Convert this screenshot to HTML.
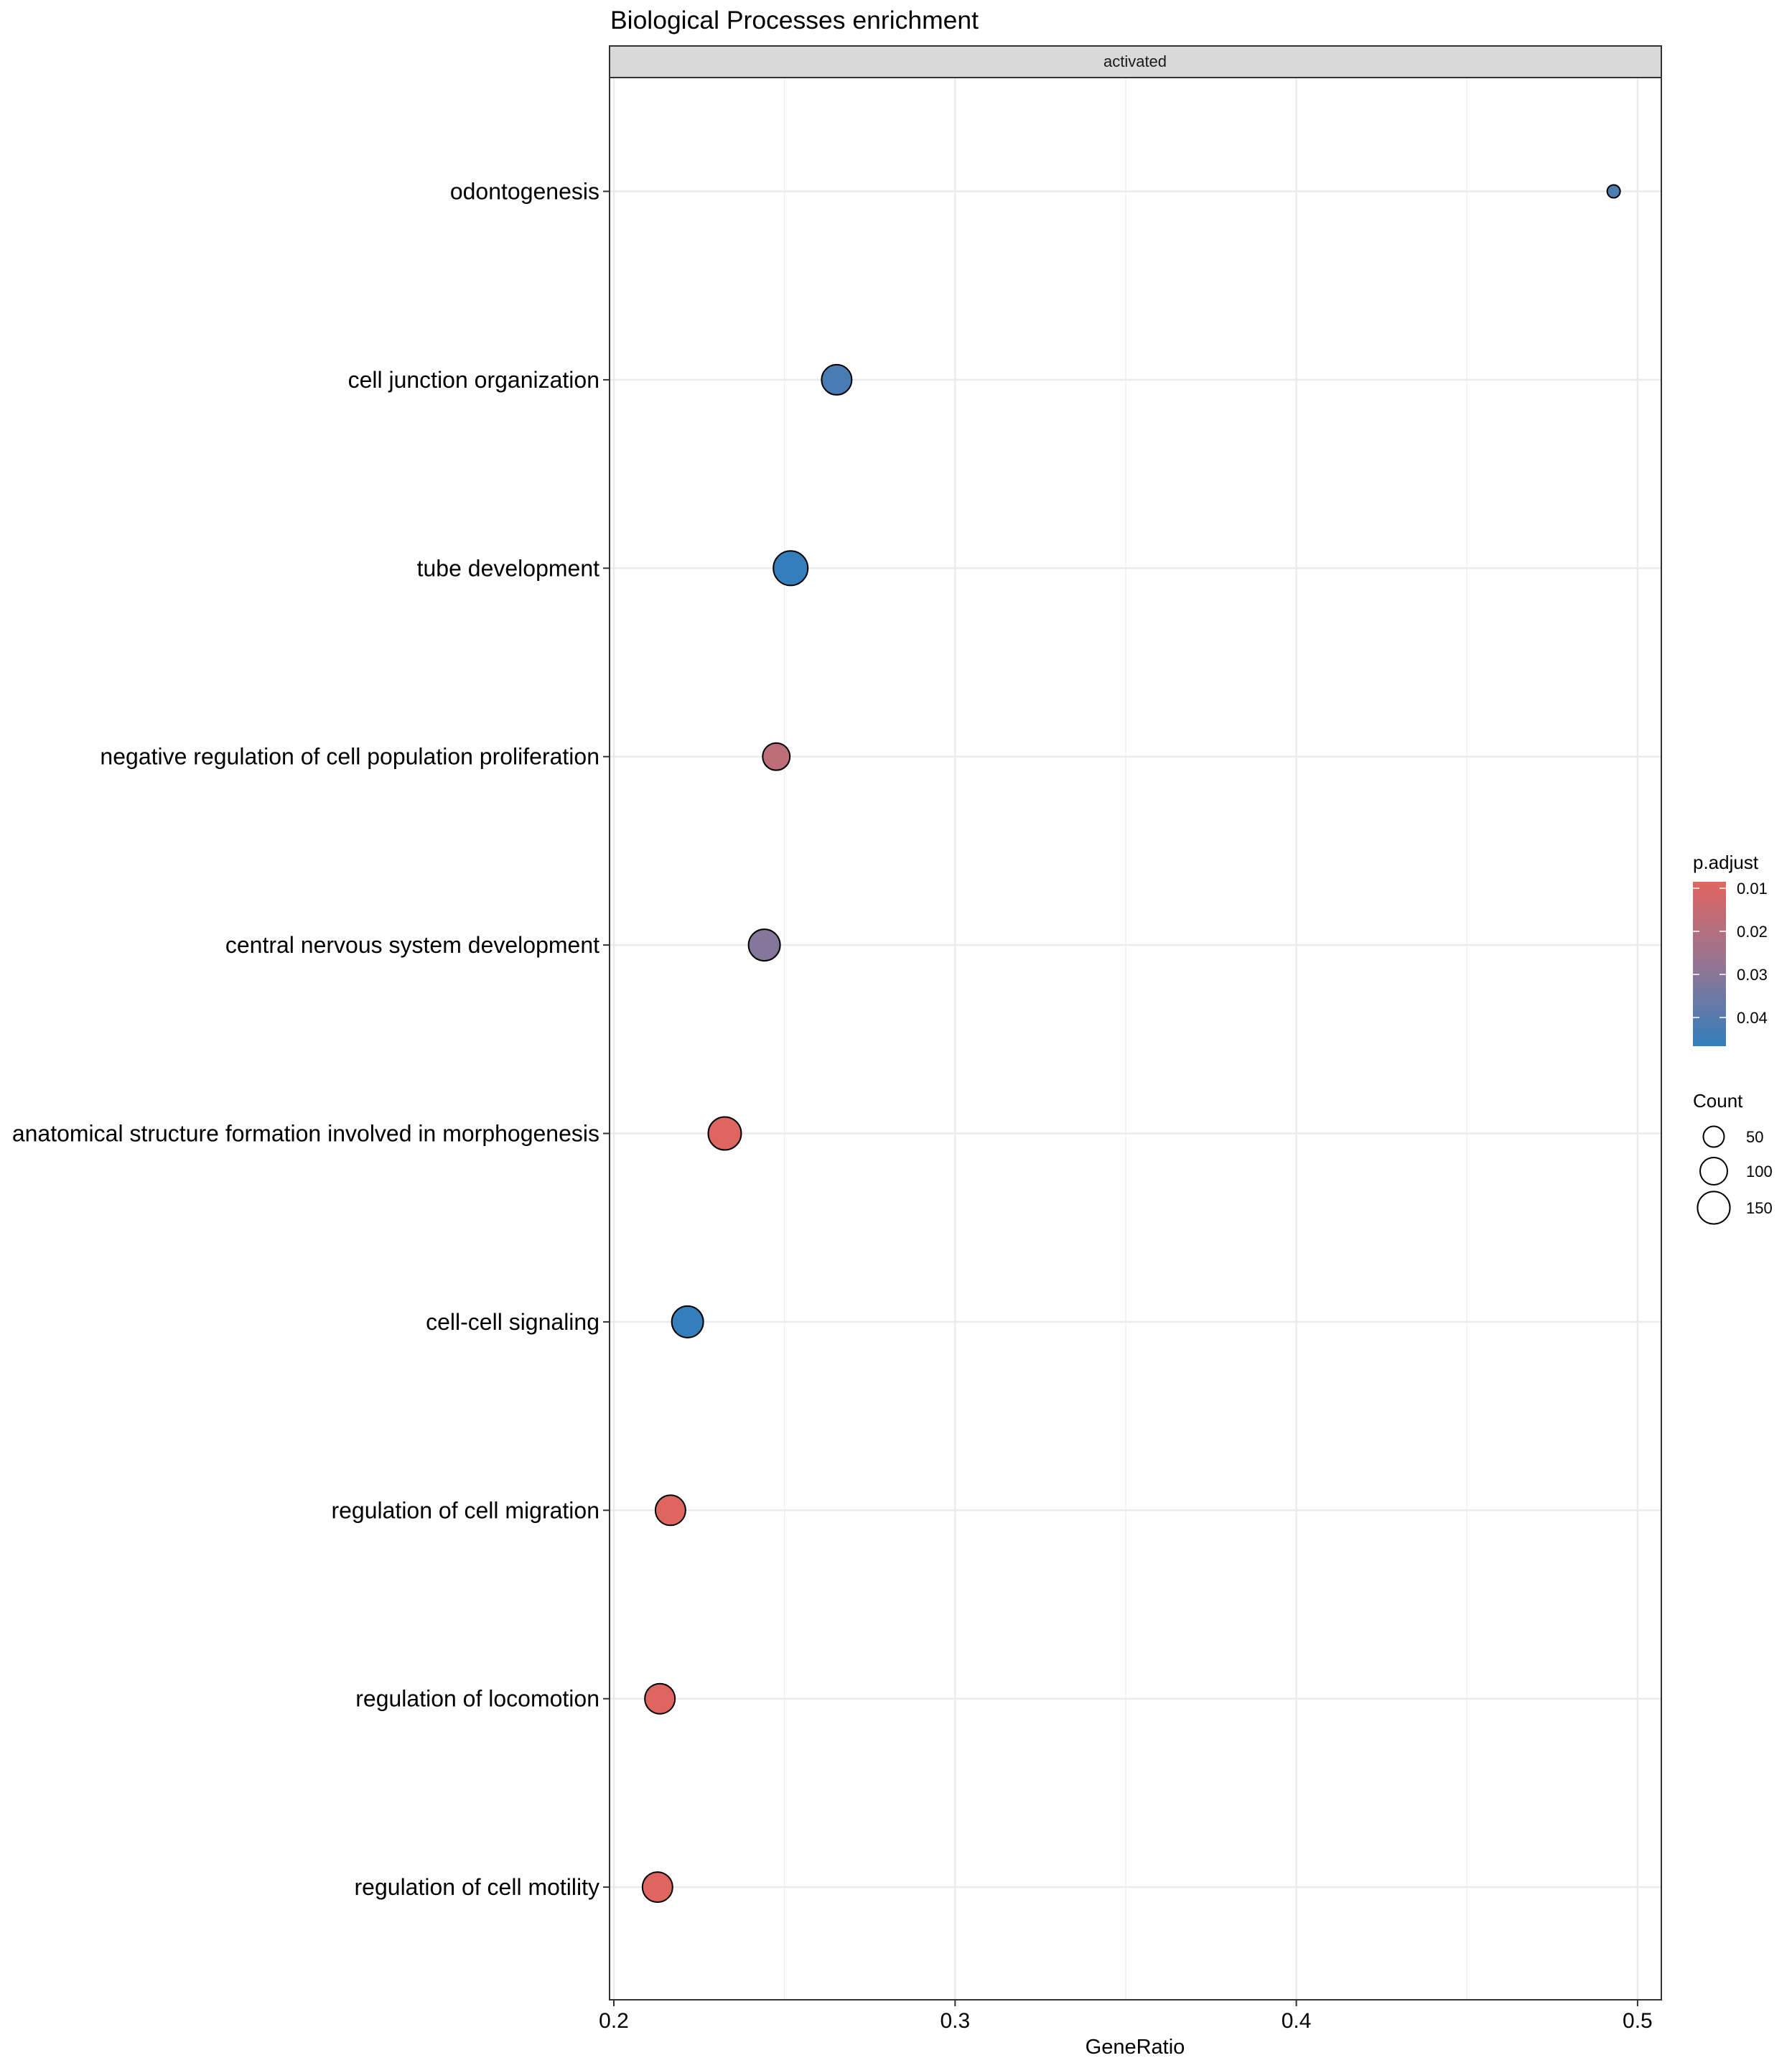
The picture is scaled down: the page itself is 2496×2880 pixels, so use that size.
<!DOCTYPE html>
<html><head><meta charset="utf-8"><style>
html,body{margin:0;padding:0;background:#fff}
svg{display:block;font-family:"Liberation Sans",Arial,sans-serif}
</style></head><body>
<svg id="chart" width="2496" height="2880" viewBox="0 0 2496 2880" xmlns="http://www.w3.org/2000/svg">
<defs><linearGradient id="cbar" x1="0" y1="0" x2="0" y2="1">
<stop offset="0" stop-color="#E0655F"/><stop offset="0.5" stop-color="#967592"/><stop offset="1" stop-color="#337EBB"/></linearGradient></defs>
<text x="850" y="40" font-size="35.5" fill="#000">Biological Processes enrichment</text>
<rect x="849" y="64" width="1465" height="44" fill="#d9d9d9" stroke="#333" stroke-width="2"/>
<text x="1581" y="93" font-size="22" text-anchor="middle" fill="#1a1a1a">activated</text>
<g id="grid"></g><g id="points"></g>
<rect x="849" y="108" width="1465" height="2677" fill="none" stroke="#333" stroke-width="2"/>
<g id="axes"></g>
<text x="1581" y="2860" font-size="29" text-anchor="middle">GeneRatio</text>
<text x="2358" y="1210" font-size="26">p.adjust</text>
<rect x="2358" y="1228" width="46" height="229" fill="url(#cbar)"/>
<g id="legend"></g>
<text x="2358" y="1542" font-size="26">Count</text>
</svg>
<script>
const categories=["odontogenesis","cell junction organization","tube development","negative regulation of cell population proliferation","central nervous system development","anatomical structure formation involved in morphogenesis","cell-cell signaling","regulation of cell migration","regulation of locomotion","regulation of cell motility"];
const geneRatio=[0.493,0.2653,0.2518,0.2476,0.2441,0.2325,0.2216,0.2166,0.2135,0.2128];
const pAdjust=[0.042,0.043,0.047,0.018,0.031,0.009,0.047,0.009,0.009,0.009];
const counts=[7,127,172,100,141,156,141,127,127,127];
const xTicks=[0.2,0.3,0.4,0.5];
const xMinor=[0.25,0.35,0.45];
const pTicks=[0.01,0.02,0.03,0.04];
const sizeBreaks=[50,100,150];

const NS="http://www.w3.org/2000/svg";
const X=v=>855+(v-0.2)*4753;
const Y=i=>266.5+i*262.4;
const R=c=>Math.sqrt(60+3*c);
const PY=p=>1237+(p-0.01)*6000;
function lerp(a,b,t){return Math.round(a+(b-a)*t);}
function col(p){let t=(p-0.00857)/(0.047-0.00857);t=Math.max(0,Math.min(1,t));
 const s=[[224,101,95],[150,117,146],[51,126,187]];
 let a,b,u;if(t<0.5){a=s[0];b=s[1];u=t*2}else{a=s[1];b=s[2];u=(t-0.5)*2}
 return `rgb(${lerp(a[0],b[0],u)},${lerp(a[1],b[1],u)},${lerp(a[2],b[2],u)})`;}
function mk(tag,attrs,parent,text){const e=document.createElementNS(NS,tag);for(const k in attrs)e.setAttribute(k,attrs[k]);if(text!==undefined)e.textContent=text;parent.appendChild(e);return e;}
const grid=document.getElementById('grid'),pts=document.getElementById('points'),axes=document.getElementById('axes'),leg=document.getElementById('legend');
xMinor.forEach(v=>{const l=mk('line',{x1:X(v),x2:X(v),y1:108,y2:2785,stroke:'#f0f0f0','stroke-width':1.5},grid);

});
xTicks.forEach(v=>{const l=mk('line',{x1:X(v),x2:X(v),y1:108,y2:2785,stroke:'#ebebeb','stroke-width':2.5},grid);


const t=mk('line',{x1:X(v),x2:X(v),y1:2785,y2:2794,stroke:'#333','stroke-width':2},axes);


const tx=mk('text',{x:X(v),y:2824,'font-size':30,'text-anchor':'middle',fill:'#000'},axes,String(v));

});
categories.forEach((c,i)=>{const l=mk('line',{x1:849,x2:2314,y1:Y(i),y2:Y(i),stroke:'#ebebeb','stroke-width':2.5},grid);


const t=mk('line',{x1:840,x2:849,y1:Y(i),y2:Y(i),stroke:'#333','stroke-width':2},axes);


const tx=mk('text',{x:835,y:Y(i)+11,'font-size':32,'text-anchor':'end',fill:'#000'},axes,c);


const p=mk('circle',{cx:X(geneRatio[i]),cy:Y(i),r:R(counts[i]),fill:col(pAdjust[i]),stroke:'#000','stroke-width':2},pts);

});
pTicks.forEach(v=>{const y=PY(v);
const a=mk('line',{x1:2358,x2:2367,y1:y,y2:y,stroke:'#fff','stroke-width':1.5},leg);


const b=mk('line',{x1:2395,x2:2404,y1:y,y2:y,stroke:'#fff','stroke-width':1.5},leg);


const t=mk('text',{x:2419,y:y+8,'font-size':22,fill:'#000'},leg,v.toFixed(2));

});
const sizeY=[1583,1631,1682];
sizeBreaks.forEach((s,i)=>{const y=sizeY[i];
const c=mk('circle',{cx:2387,cy:y,r:R(s),fill:'none',stroke:'#000','stroke-width':2},leg);


const t=mk('text',{x:2432,y:y+8,'font-size':22,fill:'#000'},leg,String(s));

});
</script>
</body></html>
